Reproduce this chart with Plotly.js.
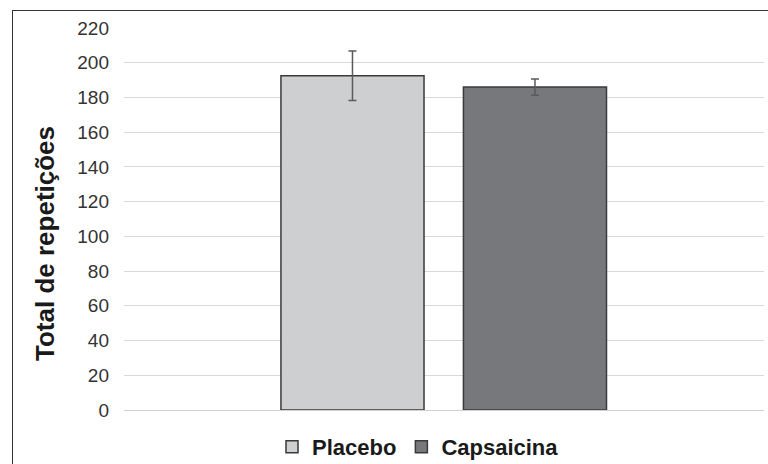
<!DOCTYPE html>
<html>
<head>
<meta charset="utf-8">
<script src="https://cdn.plot.ly/plotly-3.0.1.min.js"></script>
<style>
  html, body { margin:0; padding:0; width:768px; height:464px; overflow:hidden; background:#fff; }
  #chart { position:absolute; left:0; top:0; width:768px; height:464px; }
  #frame { position:absolute; left:12px; top:10px; width:900px; height:600px;
           border-left:1.5px solid #333; border-top:1.5px solid #333; pointer-events:none; }
</style>
</head>
<body>
<div id="chart"></div>
<div id="frame"></div>
<script>
const seriesNames = ["Placebo", "Capsaicina"];
const means = [192.5, 186];
const errors = [14.3, 4.7];
const seriesColors = ["#cecfd1", "#77787b"];
const yTicks = [0, 20, 40, 60, 80, 100, 120, 140, 160, 180, 200, 220];
const yTitle = "Total de repetições";

const FONT = "Liberation Sans, Arial, sans-serif";

const traces = seriesNames.map((name, i) => ({
  type: "bar",
  name: name,
  x: [name],
  y: [means[i]],
  width: 0.784,
  marker: { color: seriesColors[i], line: { color: "#3a3a3a", width: 1.5 } },
  error_y: { type: "data", array: [errors[i]], visible: true, color: "#5a5a5a", thickness: 1.5, width: 4 },
  hoverinfo: "skip"
}));

const layout = {
  width: 768,
  height: 464,
  margin: { l: 124, r: 4, t: 28, b: 54 },
  paper_bgcolor: "#ffffff",
  plot_bgcolor: "#ffffff",
  barmode: "overlay",
  showlegend: true,
  font: { family: FONT, color: "#333" },
  xaxis: {
    type: "category",
    categoryorder: "array",
    categoryarray: seriesNames,
    range: [-1.252, 2.255],
    showticklabels: false,
    showgrid: false,
    zeroline: false,
    showline: false,
    ticks: ""
  },
  yaxis: {
    range: [0, 220],
    tickvals: yTicks,
    ticktext: yTicks.map(String),
    showgrid: true,
    gridcolor: "#d9d9d9",
    gridwidth: 1,
    zeroline: true,
    zerolinecolor: "#d0d0d0",
    zerolinewidth: 1,
    showline: false,
    ticks: "",
    ticklabelstandoff: 14,
    tickfont: { family: FONT, size: 19, color: "#333" }
  },
  legend: {
    orientation: "h",
    xref: "container",
    yref: "container",
    x: 272 / 768,
    xanchor: "left",
    y: (464 - 447) / 464,
    yanchor: "middle",
    font: { family: FONT, size: 22, color: "#1a1a1a", weight: "bold" },
    itemwidth: 30,
    traceorder: "normal",
    bgcolor: "rgba(0,0,0,0)"
  },
  annotations: [{
    text: "<b>" + yTitle + "</b>",
    xref: "paper", yref: "paper",
    x: (45 - 124) / 640,
    y: (410 - 244) / 382,
    xanchor: "center", yanchor: "middle",
    textangle: -90,
    showarrow: false,
    font: { family: FONT, size: 26, color: "#1a1a1a" }
  }]
};

Plotly.newPlot("chart", traces, layout, { staticPlot: true, displayModeBar: false });
</script>
</body>
</html>
